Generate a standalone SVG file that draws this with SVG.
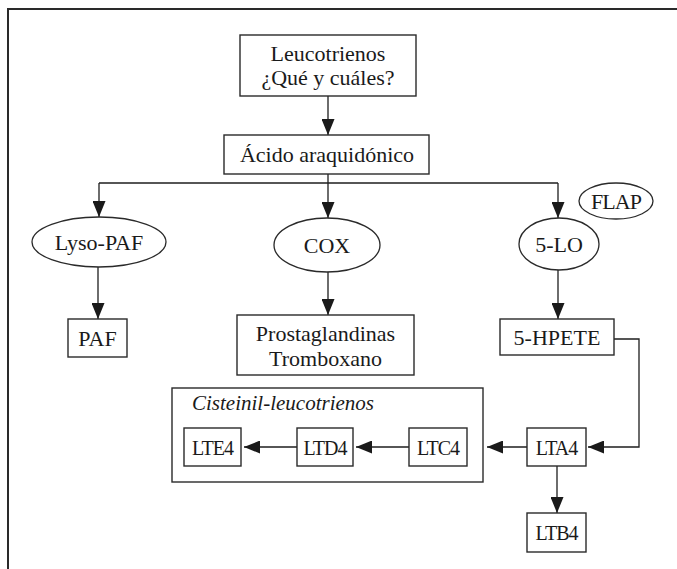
<svg xmlns="http://www.w3.org/2000/svg" width="677" height="569" viewBox="0 0 677 569">
  <style>
    .bg { fill: #ffffff; }
    .frame { fill: none; stroke: #2a2a2a; stroke-width: 2; }
    .box { fill: #ffffff; stroke: #2a2a2a; stroke-width: 1.4; }
    .group { fill: none; stroke: #2a2a2a; stroke-width: 1.4; }
    .ell { fill: #ffffff; stroke: #2a2a2a; stroke-width: 1.3; }
    .edge { fill: none; stroke: #1e1e1e; stroke-width: 1.3; }
    .t { font-family: "Liberation Serif", "DejaVu Serif", serif; font-size: 22px; fill: #1a1a1a; text-anchor: middle; }
    .lt { font-family: "Liberation Serif", "DejaVu Serif", serif; font-size: 20px; fill: #1a1a1a; text-anchor: middle; letter-spacing: -1px; }
    .it { font-family: "Liberation Serif", "DejaVu Serif", serif; font-size: 21px; font-style: italic; fill: #1a1a1a; }
  </style>
  <defs>
    <marker id="arrow" viewBox="0 0 16 13" refX="16" refY="6.5" markerWidth="16" markerHeight="13" markerUnits="userSpaceOnUse" orient="auto">
      <path d="M0,0 L16,6.5 L0,13 Z" fill="#1a1a1a"/>
    </marker>
  </defs>

  <rect class="bg" x="0" y="0" width="677" height="569"/>
  <!-- outer frame: top and left edges only -->
  <path class="frame" d="M8,572 V9 H680"/>

  <!-- group frame drawn first so the arrows inside it stay visible -->
  <g id="cisteinil-leucotrienos">
    <rect class="group" x="172" y="388" width="311" height="94"/>
    <text class="it" x="192" y="410">Cisteinil-leucotrienos</text>
  </g>

  <g id="connectors">
    <path class="edge" d="M328,96 V135" marker-end="url(#arrow)"/>
    <path class="edge" d="M328,174 V183"/>
    <path class="edge" d="M99,183 H558"/>
    <path class="edge" d="M99,183 V217" marker-end="url(#arrow)"/>
    <path class="edge" d="M328,183 V218" marker-end="url(#arrow)"/>
    <path class="edge" d="M558,183 V218" marker-end="url(#arrow)"/>
    <path class="edge" d="M98,267 V319" marker-end="url(#arrow)"/>
    <path class="edge" d="M328,272 V315" marker-end="url(#arrow)"/>
    <path class="edge" d="M558,270 V319" marker-end="url(#arrow)"/>
    <path class="edge" d="M614,339 H639 V447 H588" marker-end="url(#arrow)"/>
    <path class="edge" d="M527,447 H487" marker-end="url(#arrow)"/>
    <path class="edge" d="M409,447 H356" marker-end="url(#arrow)"/>
    <path class="edge" d="M297,447 H244" marker-end="url(#arrow)"/>
    <path class="edge" d="M557,466 V513" marker-end="url(#arrow)"/>
  </g>

  <g id="leucotrienos">
    <rect class="box" x="240" y="35" width="176" height="61"/>
    <text class="t" x="328" y="61">Leucotrienos</text>
    <text class="t" x="328" y="85">¿Qué y cuáles?</text>
  </g>

  <g id="acido">
    <rect class="box" x="224" y="135" width="205" height="39"/>
    <text class="t" x="327" y="162" font-size="23">Ácido araquidónico</text>
  </g>

  <g id="lyso-paf">
    <ellipse class="ell" cx="99" cy="242" rx="67" ry="25"/>
    <text class="t" x="99" y="250">Lyso-PAF</text>
  </g>

  <g id="cox">
    <ellipse class="ell" cx="327" cy="245" rx="53" ry="27"/>
    <text class="t" x="327" y="253" font-size="23">COX</text>
  </g>

  <g id="5-lo">
    <ellipse class="ell" cx="559" cy="244" rx="40" ry="26"/>
    <text class="t" x="559" y="252" font-size="23">5-LO</text>
  </g>

  <g id="flap">
    <ellipse class="ell" cx="616" cy="201" rx="37" ry="18"/>
    <text class="t" x="616" y="209" font-size="21" letter-spacing="-1">FLAP</text>
  </g>

  <g id="paf">
    <rect class="box" x="68" y="319" width="59" height="38"/>
    <text class="t" x="97.5" y="346">PAF</text>
  </g>

  <g id="prostaglandinas">
    <rect class="box" x="237" y="315" width="177" height="60"/>
    <text class="t" x="325.5" y="341" font-size="21.5">Prostaglandinas</text>
    <text class="t" x="325.5" y="366" font-size="21.5">Tromboxano</text>
  </g>

  <g id="5-hpete">
    <rect class="box" x="500" y="319" width="114" height="36"/>
    <text class="t" x="557" y="345" font-size="23">5-HPETE</text>
  </g>

  <g id="lte4">
    <rect class="box" x="184" y="428" width="57" height="38"/>
    <text class="lt" x="212.5" y="455">LTE4</text>
  </g>

  <g id="ltd4">
    <rect class="box" x="297" y="428" width="56" height="38"/>
    <text class="lt" x="325" y="455">LTD4</text>
  </g>

  <g id="ltc4">
    <rect class="box" x="409" y="428" width="58" height="38"/>
    <text class="lt" x="438" y="455">LTC4</text>
  </g>

  <g id="lta4">
    <rect class="box" x="527" y="428" width="59" height="38"/>
    <text class="lt" x="556.5" y="455">LTA4</text>
  </g>

  <g id="ltb4">
    <rect class="box" x="527" y="513" width="59" height="39"/>
    <text class="lt" x="556.5" y="540">LTB4</text>
  </g>
</svg>
